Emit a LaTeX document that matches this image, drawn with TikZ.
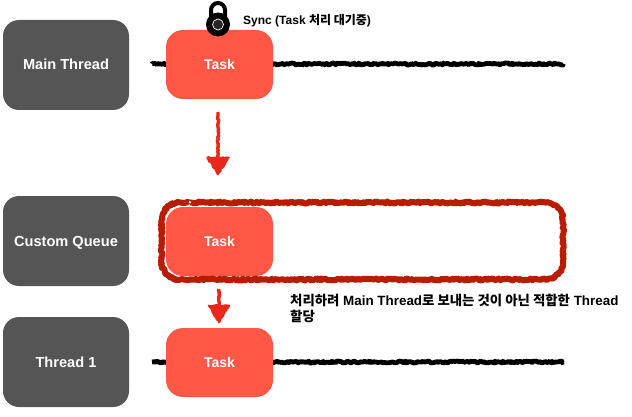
\documentclass[tikz,border=0pt]{standalone}
\usepackage{fontspec}
\setmainfont{Liberation Sans}
\newfontfamily\krfont{Noto Sans CJK KR}
\usepackage{tikz}
\usetikzlibrary{positioning, arrows.meta, calc, decorations.pathmorphing}

\definecolor{threadgray}{HTML}{555555}
\definecolor{taskred}{HTML}{FF5745}
\definecolor{queuered}{HTML}{B81C02}
\definecolor{arrowred}{HTML}{E8281A}

\tikzset{
    threadbox/.style={draw=none, rectangle, fill=threadgray, rounded corners=16pt, minimum width=126pt, minimum height=90pt, text=white, text height=10pt, text depth=0pt, font=\bfseries\fontsize{14.6}{16}\selectfont},
    taskbox/.style={draw=none, rectangle, fill=taskred, rounded corners=17pt, minimum width=107pt, minimum height=69pt, text=white, text height=10pt, text depth=0pt, font=\bfseries\fontsize{14}{16}\selectfont},
    roughline/.style={black, line width=4.8pt, line join=round, decorate, decoration={random steps, segment length=1.4pt, amplitude=1pt}},
    roughqueue/.style={queuered, line width=6pt, line join=round, decorate, decoration={random steps, segment length=1.4pt, amplitude=1pt}},
    rougharrow/.style={arrowred, line width=3.4pt, line join=round, decorate, decoration={random steps, segment length=1.6pt, amplitude=0.7pt}},
    roughhead/.style={arrowred, fill=arrowred, line width=1.6pt, line join=round, decorate, decoration={random steps, segment length=2pt, amplitude=0.7pt}},
    notetext/.style={inner sep=0pt, anchor=north west, align=left, font=\bfseries\fontsize{13.4}{16}\selectfont}
}

\begin{document}
\begin{tikzpicture}[x=1pt, y=-1pt]
    \useasboundingbox (0,0) rectangle (632,417);

    % Timelines
    \coordinate (MainStart) at (152,64);
    \coordinate (MainEnd) at (563,64);
    \coordinate (WorkStart) at (152,362);
    \coordinate (WorkEnd) at (563,362);
    \draw[roughline] (MainStart) -- (MainEnd);
    \draw[roughline] (WorkStart) -- (WorkEnd);

    % Threads
    \node[threadbox] (Main) at (66,65) {Main Thread};
    \node[threadbox] (Queue) at (66,241) {Custom Queue};
    \node[threadbox] (Thread) at (66,362) {Thread 1};

    % Tasks
    \node[taskbox] (TaskMain) at (219.5,64.5) {Task};
    \node[taskbox] (TaskQueue) at (219.5,241.5) {Task};
    \node[taskbox] (TaskThread) at (219.5,362.5) {Task};

    % Queue outline
    \draw[roughqueue] (188.5,202.5) -- (180,202.5) arc[start angle=90, end angle=180, radius=18.5pt] -- (161.5,261) arc[start angle=180, end angle=270, radius=18.5pt] -- (545,279.5) arc[start angle=270, end angle=360, radius=18pt] -- (563,220.5) arc[start angle=0, end angle=90, radius=18pt] -- (191,202.5);

    % Lock
    \draw[black, line width=4pt] (211,24) -- (211,10) arc[start angle=180, end angle=0, radius=7pt] -- (225,24);
    \node[draw=none, circle, fill=black, minimum size=24pt, inner sep=0pt] (Lock) at (218,24.5) {};
    \node[draw=white, circle, line width=0.7pt, fill=black!85, minimum size=11pt, inner sep=0pt] (LockCore) at (Lock) {};

    % Arrows
    \coordinate (DownStart) at (218,112);
    \coordinate (DownEnd) at (218,160);
    \draw[rougharrow] (DownStart) -- (DownEnd);
    \draw[roughhead] (207,157.5) -- (229,157.5) -- (218,174.5) -- cycle;
    \coordinate (ThreadStart) at (219,289);
    \coordinate (ThreadEnd) at (219,308);
    \draw[rougharrow] (ThreadStart) -- (ThreadEnd);
    \draw[roughhead] (208.5,305.5) -- (229.5,305.5) -- (219,322.5) -- cycle;

    % Labels
    \node[notetext, font=\bfseries\fontsize{12}{15}\selectfont] (SyncNote) at (243,14) {Sync (Task {\krfont 처리 대기중})};
    \node[notetext] (AssignNote) at (290,293.5) {{\krfont 처리하려} Main Thread{\krfont 로 보내는 것이 아닌 적합한} Thread\\{\krfont 할당}};
\end{tikzpicture}
\end{document}
